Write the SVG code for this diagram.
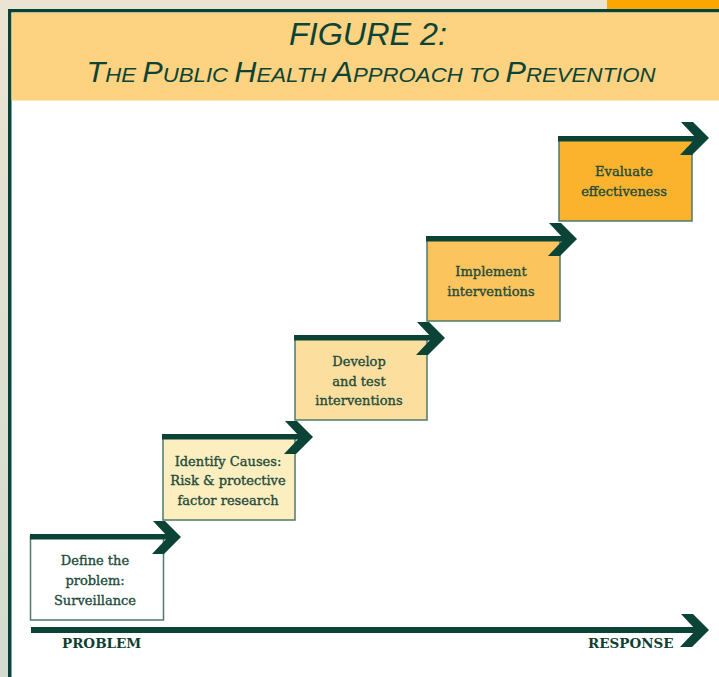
<svg xmlns="http://www.w3.org/2000/svg" width="719" height="677" viewBox="0 0 719 677">
<defs>
<linearGradient id="side" x1="0" y1="0" x2="0" y2="1">
<stop offset="0" stop-color="#ebe4d3"/>
<stop offset="1" stop-color="#d3dbd0"/>
</linearGradient>
<style>
.lbl{font-family:"DejaVu Serif","Liberation Serif",serif;font-size:13px;fill:#1d4b3b;stroke:#1d4b3b;stroke-width:0.35px;text-anchor:middle}
.ax{font-family:"DejaVu Serif","Liberation Serif",serif;font-size:13.5px;font-weight:bold;fill:#0f3f31}
.box{stroke:#4f7a68;stroke-width:1.5}
.dk{fill:#0b4436}
.ttl{font-family:"Liberation Sans",Arial,sans-serif;fill:#0b4436;text-anchor:middle;font-style:italic}
</style>
</defs>
<rect x="0" y="0" width="719" height="677" fill="url(#side)"/>
<rect x="607" y="0" width="112" height="10" fill="#fca600"/>
<rect x="8" y="9" width="711" height="668" fill="#06443a"/>
<rect x="11.5" y="12.5" width="707.5" height="664.5" fill="#ffffff"/>
<rect x="11.5" y="12.5" width="707.5" height="88" fill="#fdd280"/>
<g id="title">
<text class="ttl" x="368" y="45" font-size="32" textLength="158" lengthAdjust="spacingAndGlyphs">FIGURE 2:</text>
<text class="ttl" x="371" y="82" font-size="21" textLength="569" lengthAdjust="spacingAndGlyphs"><tspan font-size="29">T</tspan>HE <tspan font-size="29">P</tspan>UBLIC <tspan font-size="29">H</tspan>EALTH <tspan font-size="29">A</tspan>PPROACH TO <tspan font-size="29">P</tspan>REVENTION</text>
</g>
<g id="step1">
<rect class="box" x="30.5" y="536" width="133" height="84" fill="#ffffff"/>
<text class="lbl" x="95" y="565">Define the</text>
<text class="lbl" x="95" y="585">problem:</text>
<text class="lbl" x="95" y="605">Surveillance</text>
</g>
<g id="step2">
<rect class="box" x="163" y="436" width="132" height="84" fill="#fdeec0"/>
<text class="lbl" x="228" y="466">Identify Causes:</text>
<text class="lbl" x="228" y="485">Risk &amp; protective</text>
<text class="lbl" x="228" y="505">factor research</text>
</g>
<g id="step3">
<rect class="box" x="295" y="337" width="132" height="83" fill="#fcdf9f"/>
<text class="lbl" x="359" y="366">Develop</text>
<text class="lbl" x="359" y="386">and test</text>
<text class="lbl" x="359" y="405">interventions</text>
</g>
<g id="step4">
<rect class="box" x="427" y="238" width="133" height="83" fill="#fcc45c"/>
<text class="lbl" x="491" y="276">Implement</text>
<text class="lbl" x="491" y="296">interventions</text>
</g>
<g id="step5">
<rect class="box" x="559" y="138" width="133" height="83" fill="#fbb32e"/>
<text class="lbl" x="624" y="176">Evaluate</text>
<text class="lbl" x="624" y="196">effectiveness</text>
</g>
<g id="connectors" class="dk">
<rect x="30" y="534" width="140" height="5.5"/>
<polygon points="153,521 165,521 181,537 164,554 152,554 168,537"/>
<rect x="162" y="434" width="140" height="5.5"/>
<polygon points="285,421 297,421 313,437 296,454 284,454 300,437"/>
<rect x="294" y="335" width="140" height="5.5"/>
<polygon points="417,322 429,322 445,338 428,355 416,355 432,338"/>
<rect x="426" y="236" width="140" height="5.5"/>
<polygon points="549,223 561,223 577,239 560,256 548,256 564,239"/>
<rect x="558" y="136" width="140" height="5.5"/>
<polygon points="681,122 693,122 709,138 692,155 680,155 696,138"/>
<rect x="31" y="627" width="667" height="6"/>
<polygon points="681,614 693,614 709,630 692,647 680,647 696,630"/>
</g>
<g id="axis-labels">
<text class="ax" x="62" y="648">PROBLEM</text>
<text class="ax" x="588" y="648">RESPONSE</text>
</g>
</svg>
